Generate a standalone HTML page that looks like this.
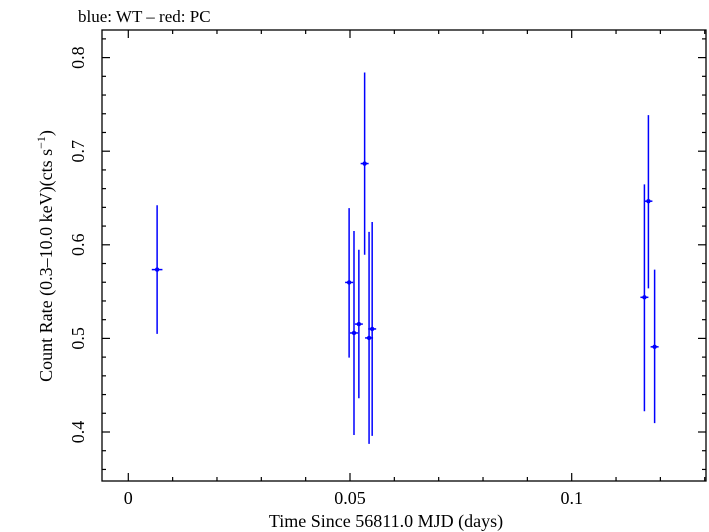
<!DOCTYPE html>
<html><head><meta charset="utf-8"><style>
body{margin:0;background:#fff;width:709px;height:532px;overflow:hidden}
svg{display:block;font-family:"Liberation Serif",serif}
</style></head><body>
<svg id="chart" width="709" height="532" viewBox="0 0 709 532">
<text x="78" y="22" font-size="17">blue: WT – red: PC</text>
<rect x="102" y="30" width="604" height="451" fill="none" stroke="#000" stroke-width="1.3"/>
<g id="ticks"></g>
<g id="marks"></g>
<text x="386" y="527" font-size="18" text-anchor="middle">Time Since 56811.0 MJD (days)</text>
<text transform="translate(52,256) rotate(-90)" font-size="18" text-anchor="middle">Count Rate (0.3–10.0 keV)(cts s<tspan dy="-7" font-size="12">−1</tspan><tspan dy="7">)</tspan></text>
</svg>
<script>
const times=[0.0065,0.0498,0.0509,0.0520,0.0533,0.0543,0.0550,0.1164,0.1173,0.1187];
const timeErr=[0.0012,0.0009,0.0009,0.0009,0.0009,0.0009,0.0009,0.0009,0.0009,0.0009];
const rates=[0.5735,0.5598,0.5058,0.5153,0.6868,0.5005,0.5101,0.5439,0.6466,0.4910];
const rateHi=[0.6423,0.6392,0.6148,0.5947,0.7841,0.6138,0.6243,0.6646,0.7386,0.5735];
const rateLo=[0.5048,0.4794,0.3968,0.4360,0.5894,0.3873,0.3958,0.4222,0.5534,0.4095];
const xTicks=[0,0.05,0.1];
const xTickLabels=["0","0.05","0.1"];
const yTicks=[0.4,0.5,0.6,0.7,0.8];
const yTickLabels=["0.4","0.5","0.6","0.7","0.8"];
const X0=102,X1=706,Y0=30,Y1=481;
function xs(v){return 128.3+v*4434;}
function ys(v){return 432-(v-0.4)*936;}
const NS="http://www.w3.org/2000/svg";
function mk(tag,attrs,parent){const e=document.createElementNS(NS,tag);for(const k in attrs)e.setAttribute(k,attrs[k]);parent.appendChild(e);return e;}
const tg=document.getElementById('ticks'),mg=document.getElementById('marks');
function line(x1,y1,x2,y2){const l=mk('line',{x1:x1,y1:y1,x2:x2,y2:y2,stroke:'#000','stroke-width':1.2},tg);

}
for(let v=-0.004;v<=0.13;v+=0.01){const r=Math.round(v*100)/100;const x=xs(r);if(x<X0||x>X1)continue;
const major=Math.abs(r*20-Math.round(r*20))<1e-6;const L=major?8:4;line(x,Y1,x,Y1-L);line(x,Y0,x,Y0+L);}
for(let i=0;i<=24;i++){const v=0.36+i*0.02;const y=ys(v);if(y<Y0||y>Y1)continue;
const major=i%5==2;const L=major?8:4;line(X0,y,X0+L,y);line(X1,y,X1-L,y);}
xTicks.forEach((v,i)=>{const t=mk('text',{x:xs(v),y:504,'font-size':18,'text-anchor':'middle'},tg);t.textContent=xTickLabels[i];

});
yTicks.forEach((v,i)=>{const t=mk('text',{transform:`translate(84,${ys(v)}) rotate(-90)`,'font-size':18,'text-anchor':'middle'},tg);t.textContent=yTickLabels[i];

});
times.forEach((t,i)=>{const g=mk('g',{},mg);


const x=xs(t),y=ys(rates[i]);
mk('line',{x1:x,y1:ys(rateHi[i]),x2:x,y2:ys(rateLo[i]),stroke:'#00f','stroke-width':1.5},g);
mk('line',{x1:xs(t-timeErr[i]),y1:y,x2:xs(t+timeErr[i]),y2:y,stroke:'#00f','stroke-width':1.5},g);
mk('circle',{cx:x,cy:y,r:2.2,fill:'#00f'},g);});
</script>
</body></html>
